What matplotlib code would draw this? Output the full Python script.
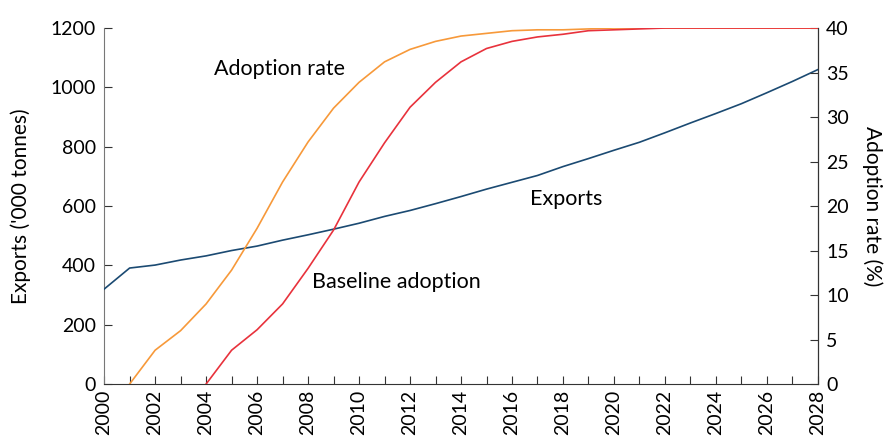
import matplotlib
matplotlib.use("Agg")
import matplotlib.pyplot as plt
from matplotlib.ticker import MultipleLocator

plt.rcParams['font.family'] = ['Lato', 'DejaVu Sans']

# データ
years = list(range(2000, 2029))
exports = [320, 391, 401, 418, 432, 450, 465, 485, 503, 522, 542, 565, 585, 608,
           632, 657, 680, 703, 733, 760, 788, 815, 847, 880, 912, 945, 982, 1020, 1060]
adopt_years = list(range(2001, 2029))
adoption = [0, 3.8, 6.0, 9.0, 12.8, 17.5, 22.7, 27.2, 31.0, 33.9, 36.2, 37.6, 38.5, 39.1,
            39.4, 39.7, 39.8, 39.8, 39.9, 40, 40, 40, 40, 40, 40, 40, 40, 40]
base_years = list(range(2004, 2029))
baseline = [0, 3.8, 6.1, 9.0, 13.0, 17.3, 22.7, 27.1, 31.1, 33.9, 36.2, 37.7, 38.5, 39.0,
            39.3, 39.7, 39.8, 39.9, 40, 40, 40, 40, 40, 40, 40]

c_exp = '#1b4a72'
c_adopt = '#f7993a'
c_base = '#e8323c'

fig = plt.figure(figsize=(8.9, 4.45), dpi=100)
ax = fig.add_axes([0.117, 0.137, 0.802, 0.8])
ax2 = ax.twinx()

ax.plot(years, exports, color=c_exp, lw=1.2, zorder=3)
ax2.plot(adopt_years, adoption, color=c_adopt, lw=1.2)
ax2.plot(base_years, baseline, color=c_base, lw=1.2)

ax.set_xlim(2000, 2028)
ax.set_ylim(0, 1200)
ax2.set_ylim(0, 40)
ax.xaxis.set_major_locator(MultipleLocator(2))
ax.xaxis.set_minor_locator(MultipleLocator(1))
ax.yaxis.set_major_locator(MultipleLocator(200))
ax2.yaxis.set_major_locator(MultipleLocator(5))

for a in (ax, ax2):
    a.spines['top'].set_visible(False)
    a.tick_params(direction='in', length=6, width=0.8, color='#333333', labelsize=14, pad=6)
    a.tick_params(which='minor', direction='in', length=6, width=0.8, color='#333333')
ax.spines['left'].set_color('#777777')
ax.spines['bottom'].set_color('#333333')
ax2.spines['right'].set_color('#333333')
ax2.spines['left'].set_visible(False)
ax2.spines['bottom'].set_visible(False)
ax.tick_params(axis='x', labelrotation=90, pad=4)

ax.set_ylabel("Exports ('000 tonnes)", fontsize=15, labelpad=14)
ax2.set_ylabel("Adoption rate (%)", fontsize=15, rotation=270, labelpad=24)

ax2.text(2004.3, 34.7, "Adoption rate", fontsize=15.5)
ax2.text(2008.15, 10.8, "Baseline adoption", fontsize=15.5)
ax2.text(2016.7, 20.1, "Exports", fontsize=15.5)

fig.savefig("out.png", dpi=100)
